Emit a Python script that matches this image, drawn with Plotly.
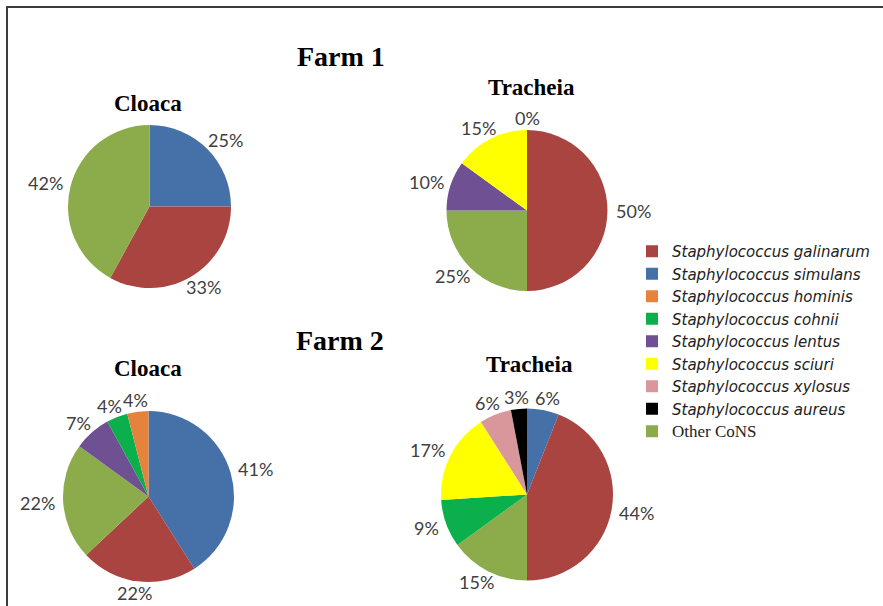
import math
import plotly.graph_objects as go

W, H = 883, 606

# Legend categories (legend order) and colours
legend_species = [
    "Staphylococcus galinarum", "Staphylococcus simulans", "Staphylococcus hominis",
    "Staphylococcus cohnii", "Staphylococcus lentus", "Staphylococcus sciuri",
    "Staphylococcus xylosus", "Staphylococcus aureus", "Other CoNS",
]
colors = {
    "Staphylococcus galinarum": "#A94441",
    "Staphylococcus simulans": "#4671A8",
    "Staphylococcus hominis": "#E5833D",
    "Staphylococcus cohnii": "#0BAF4B",
    "Staphylococcus lentus": "#6E5093",
    "Staphylococcus sciuri": "#FFFF00",
    "Staphylococcus xylosus": "#D9969B",
    "Staphylococcus aureus": "#000000",
    "Other CoNS": "#8CAB4A",
}

# Pie data (slice order as drawn, clockwise from 12 o'clock)
f1_cloaca_labels = ["Staphylococcus simulans", "Staphylococcus galinarum", "Other CoNS"]
f1_cloaca_values = [25, 33, 42]

f1_trach_labels = ["Staphylococcus simulans", "Staphylococcus galinarum", "Other CoNS",
                   "Staphylococcus lentus", "Staphylococcus sciuri"]
f1_trach_values = [0, 50, 25, 10, 15]

f2_cloaca_labels = ["Staphylococcus simulans", "Staphylococcus galinarum", "Other CoNS",
                    "Staphylococcus lentus", "Staphylococcus cohnii", "Staphylococcus hominis"]
f2_cloaca_values = [41, 22, 22, 7, 4, 4]

f2_trach_labels = ["Staphylococcus simulans", "Staphylococcus galinarum", "Other CoNS",
                   "Staphylococcus cohnii", "Staphylococcus sciuri", "Staphylococcus xylosus",
                   "Staphylococcus aureus"]
f2_trach_values = [6, 44, 15, 9, 17, 6, 3]

# pie boxes in pixels: (left, top, right, bottom)
boxes = [
    (68, 125, 231, 288),
    (446, 130, 608, 291),
    (63, 411, 234, 582),
    (441, 408, 613, 581),
]
pies = [
    (f1_cloaca_labels, f1_cloaca_values),
    (f1_trach_labels, f1_trach_values),
    (f2_cloaca_labels, f2_cloaca_values),
    (f2_trach_labels, f2_trach_values),
]

LABEL_GAP = 12
LABEL_FONT = dict(family="Lato", size=18, color="#404040")

fig = go.Figure()
for (labels, values), (l, t, r, b) in zip(pies, boxes):
    fig.add_trace(go.Pie(
        labels=labels, values=values, sort=False, direction="clockwise", rotation=0,
        marker=dict(colors=[colors[s] for s in labels], line=dict(width=0)),
        textinfo="none",
        showlegend=False, hoverinfo="label+value",
        domain=dict(x=[l / W, r / W], y=[1 - b / H, 1 - t / H]),
    ))
    # outside-end percentage labels, placed from each slice's mid angle
    cx, cy = (l + r) / 2, (t + b) / 2
    rad = min(r - l, b - t) / 2
    total = sum(values)
    cum = 0
    for v in values:
        th = 2 * math.pi * (cum + v / 2) / total
        cum += v
        ux, uy = math.sin(th), -math.cos(th)
        txt = f"{v}%"
        w = 9 * len(txt)
        px = cx + (rad + LABEL_GAP) * ux + ux * w / 2
        py = cy + (rad + LABEL_GAP) * uy
        fig.add_annotation(
            text=txt, x=px / W, y=1 - py / H, xref="paper", yref="paper",
            xanchor="center", yanchor="middle", showarrow=False, font=LABEL_FONT,
        )

for s in legend_species:
    if s == "Other CoNS":
        name = "<span style=\"font-family:'Liberation Serif';font-size:17px\">Other CoNS</span>"
    else:
        name = "<i>" + s + "</i>"
    fig.add_trace(go.Scatter(
        x=[None], y=[None], mode="markers", name=name,
        marker=dict(symbol="square", size=9, color=colors[s]),
        showlegend=True,
    ))

titles = [
    ("Farm 1", 341, 56, 28),
    ("Farm 2", 340, 340, 28),
    ("Cloaca", 148, 103, 23),
    ("Tracheia", 531, 87, 23),
    ("Cloaca", 148, 368, 23),
    ("Tracheia", 529, 364, 23),
]
for txt, x, y, sz in titles:
    fig.add_annotation(
        text="<b>" + txt + "</b>", x=x / W, y=1 - y / H, xref="paper", yref="paper",
        xanchor="center", yanchor="middle", showarrow=False,
        font=dict(family="Liberation Serif", size=sz, color="#000000"),
    )

# frame lines (top and left)
fig.add_shape(type="line", xref="paper", yref="paper", x0=6 / W, x1=1, y0=1 - 7 / H, y1=1 - 7 / H,
              line=dict(color="#3C3C3C", width=2))
fig.add_shape(type="line", xref="paper", yref="paper", x0=7 / W, x1=7 / W, y0=0, y1=1 - 7 / H,
              line=dict(color="#3C3C3C", width=2))

fig.update_layout(
    width=W, height=H,
    margin=dict(l=0, r=0, t=0, b=0),
    paper_bgcolor="white", plot_bgcolor="white",
    xaxis=dict(visible=False), yaxis=dict(visible=False),
    legend=dict(
        x=632 / W, y=1 - 235 / H, xanchor="left", yanchor="top",
        font=dict(family="DejaVu Sans", size=15, color="#222222"),
        bgcolor="rgba(0,0,0,0)", tracegroupgap=0, itemsizing="constant",
    ),
)

fig.write_html("out.html", config={"displayModeBar": False},
               post_script="document.body.style.margin='0';")
